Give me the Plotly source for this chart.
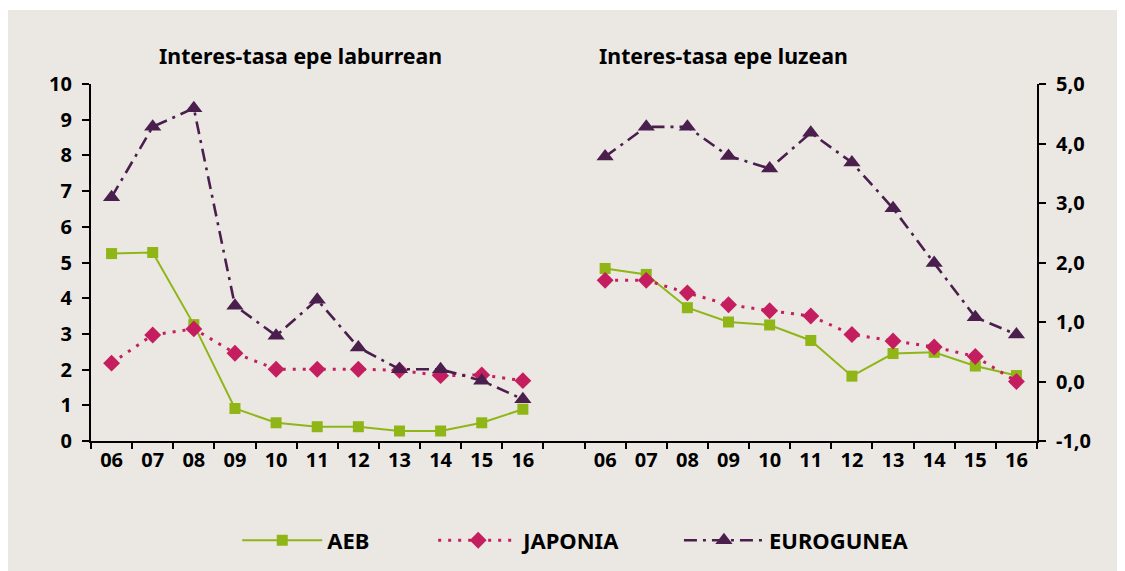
import plotly.graph_objects as go

# ---- data ----
years = ["06", "07", "08", "09", "10", "11", "12", "13", "14", "15", "16"]
series_names = ["AEB", "JAPONIA", "EUROGUNEA"]

short_aeb = [5.25, 5.28, 3.26, 0.91, 0.51, 0.40, 0.40, 0.28, 0.28, 0.51, 0.89]
short_jap = [2.18, 2.97, 3.14, 2.46, 2.01, 2.01, 2.01, 1.98, 1.83, 1.85, 1.69]
short_eur = [6.83, 8.80, 9.32, 3.79, 2.95, 3.96, 2.62, 2.01, 2.01, 1.69, 1.17]

long_aeb = [1.90, 1.80, 1.24, 1.00, 0.95, 0.69, 0.09, 0.47, 0.49, 0.26, 0.10]
long_jap = [1.70, 1.70, 1.49, 1.29, 1.19, 1.10, 0.79, 0.68, 0.58, 0.42, 0.00]
long_eur = [3.78, 4.28, 4.28, 3.79, 3.58, 4.18, 3.68, 2.91, 1.99, 1.08, 0.79]

left_ticks = [0, 1, 2, 3, 4, 5, 6, 7, 8, 9, 10]
left_ticktext = ["0", "1", "2", "3", "4", "5", "6", "7", "8", "9", "10"]
right_ticks = [-1, 0, 1, 2, 3, 4, 5]
right_ticktext = ["-1,0", "0,0", "1,0", "2,0", "3,0", "4,0", "5,0"]

title_left = "Interes-tasa epe laburrean"
title_right = "Interes-tasa epe luzean"

# ---- categories (left panel, blank gap, right panel) ----
left_keys = ["L" + y for y in years]
right_keys = ["R" + y for y in years]
gap_key = ["gap"]
all_keys = left_keys + gap_key + right_keys
all_labels = years + [""] + years

BG = "#ebe8e4"
C_AEB = "#8fb516"
C_JAP = "#c41e5e"
C_EUR = "#4b1f4d"
FONT = "Noto Sans"

styles = {
    "AEB": dict(line=dict(color=C_AEB, width=2),
                marker=dict(symbol="square", size=11, color=C_AEB)),
    "JAPONIA": dict(line=dict(color=C_JAP, width=3, dash="3px,7px"),
                    marker=dict(symbol="diamond", size=13, color=C_JAP)),
    "EUROGUNEA": dict(line=dict(color=C_EUR, width=2.6, dash="13px,6px,3px,6px"),
                      marker=dict(symbol="triangle-up", size=15, color=C_EUR)),
}
legend_ids = {"AEB": "legend", "JAPONIA": "legend2", "EUROGUNEA": "legend3"}

fig = go.Figure()
short_vals = {"AEB": short_aeb, "JAPONIA": short_jap, "EUROGUNEA": short_eur}
long_vals = {"AEB": long_aeb, "JAPONIA": long_jap, "EUROGUNEA": long_eur}

for name in series_names:
    st = styles[name]
    fig.add_trace(go.Scatter(x=left_keys, y=short_vals[name], name=name,
                             mode="lines+markers", line=st["line"], marker=st["marker"],
                             yaxis="y", legend=legend_ids[name], showlegend=True))
for name in series_names:
    st = styles[name]
    fig.add_trace(go.Scatter(x=right_keys, y=long_vals[name], name=name,
                             mode="lines+markers", line=st["line"], marker=st["marker"],
                             yaxis="y2", showlegend=False))

tickfont = dict(family=FONT, size=20, color="black", weight="bold")

fig.update_layout(
    width=1125, height=571, autosize=False,
    margin=dict(l=83, r=96, t=76, b=138),
    paper_bgcolor=BG, plot_bgcolor="rgba(0,0,0,0)",
    xaxis=dict(type="category", categoryorder="array", categoryarray=all_keys,
               tickmode="array", tickvals=all_keys, ticktext=all_labels,
               tickson="boundaries", ticks="outside", ticklen=6, tickwidth=2,
               tickcolor="black", showline=True, linecolor="black", linewidth=2,
               showgrid=False, zeroline=False, range=[-0.5, len(all_keys) - 0.5],
               tickfont=tickfont, fixedrange=True),
    yaxis=dict(range=[0, 10], tickmode="array", tickvals=left_ticks, ticktext=left_ticktext,
               ticks="outside", ticklen=7, tickwidth=2, tickcolor="black",
               showline=True, linecolor="black", linewidth=2, showgrid=False,
               zeroline=False, tickfont=tickfont, ticklabelstandoff=6),
    yaxis2=dict(range=[-1, 5], overlaying="y", side="right", anchor="x",
                tickmode="array", tickvals=right_ticks, ticktext=right_ticktext,
                ticks="outside", ticklen=7, tickwidth=2, tickcolor="black",
                showline=True, linecolor="black", linewidth=2, showgrid=False,
                zeroline=False, tickfont=tickfont, ticklabelstandoff=6),
    annotations=[
        dict(text=title_left, xref="paper", yref="paper", x=0.221, y=1.079,
             xanchor="center", yanchor="middle", showarrow=False,
             font=dict(family=FONT, size=21.3, color="black", weight="bold")),
        dict(text=title_right, xref="paper", yref="paper", x=0.669, y=1.079,
             xanchor="center", yanchor="middle", showarrow=False,
             font=dict(family=FONT, size=21.3, color="black", weight="bold")),
    ],
    shapes=[
        dict(type="rect", xref="paper", yref="paper", x0=-0.3, x1=1.3,
             ysizemode="pixel", yanchor=1, y0=74, y1=120,
             fillcolor="white", line=dict(width=0), layer="below"),
    ],
)

legend_font = dict(family=FONT, size=22, color="black", weight="bold")
for lid, xpos in (("legend", 0.1546), ("legend2", 0.3617), ("legend3", 0.6215)):
    fig.update_layout({lid: dict(orientation="h", x=xpos, y=-0.2786, xanchor="left",
                                 yanchor="middle", bgcolor="rgba(0,0,0,0)",
                                 font=legend_font, itemwidth=80)})

fig.write_html("out.html")
